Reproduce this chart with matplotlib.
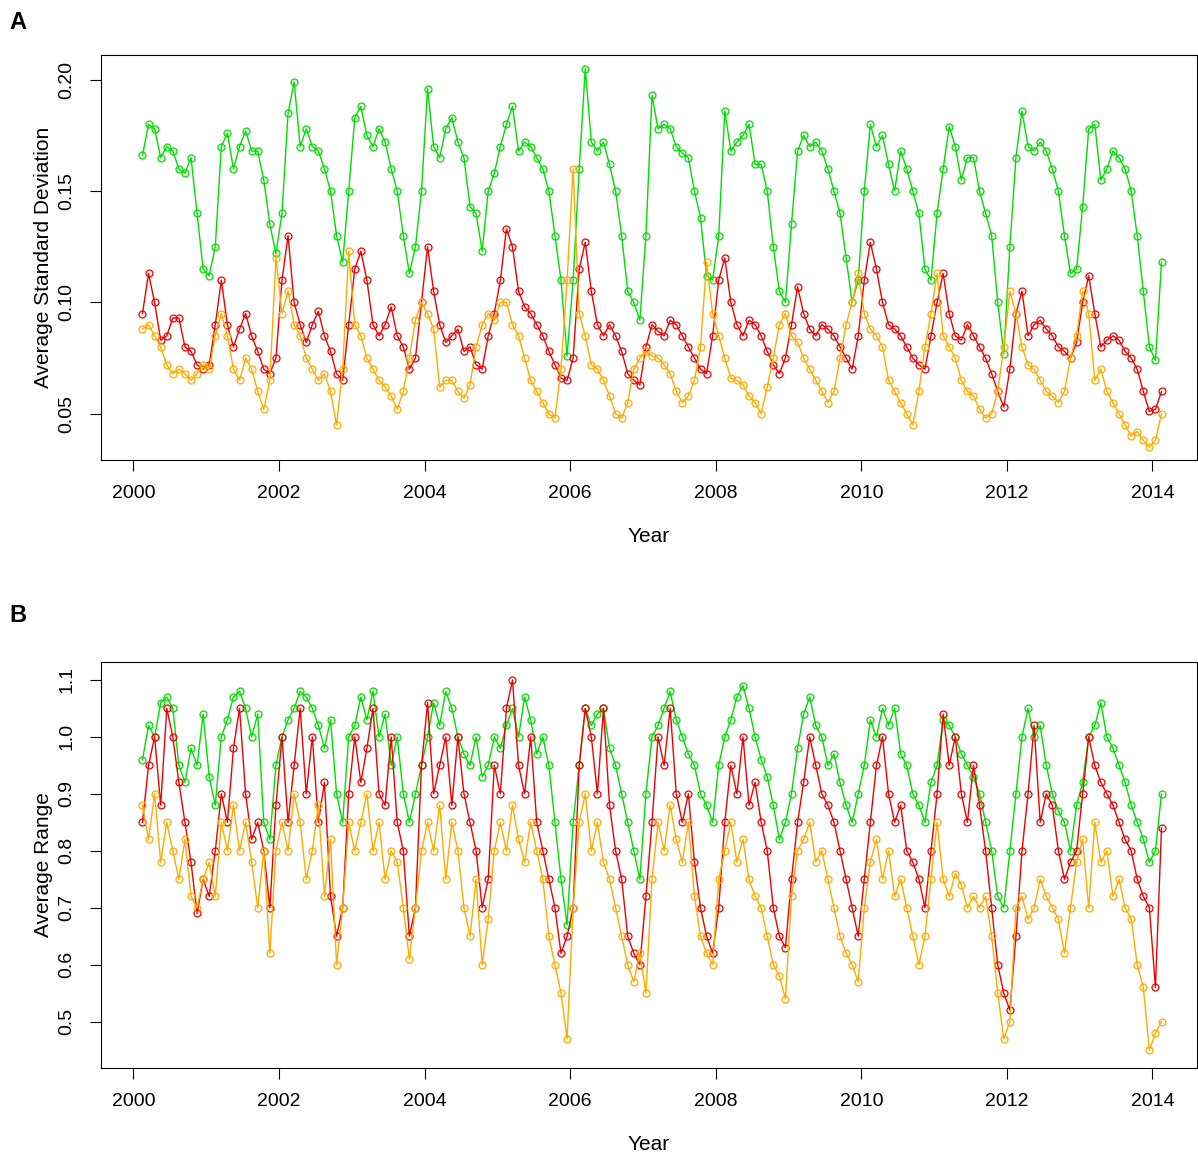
import numpy as np
import matplotlib
matplotlib.use("Agg")
import matplotlib.pyplot as plt

plt.rcParams['font.family'] = ['Liberation Sans', 'DejaVu Sans']

# monthly values, Feb 2000 .. Feb 2014
sd_green = [
    .166,.180,.178,.165,.170,.168,.160,.158,.165,.140,.115,
    .112,.125,.170,.176,.160,.170,.177,.168,.168,.155,.135,.122,
    .140,.185,.199,.170,.178,.170,.168,.160,.150,.130,.118,.150,
    .183,.188,.175,.170,.178,.172,.160,.150,.130,.113,.125,.150,
    .196,.170,.165,.178,.183,.172,.165,.143,.140,.123,.150,.158,
    .170,.180,.188,.168,.172,.170,.165,.160,.150,.130,.110,.076,
    .110,.160,.205,.172,.168,.172,.162,.150,.130,.105,.100,.092,
    .130,.193,.178,.180,.178,.170,.167,.165,.150,.138,.112,.110,
    .130,.186,.168,.172,.175,.180,.162,.162,.150,.125,.105,.100,
    .135,.168,.175,.170,.172,.168,.160,.150,.140,.120,.100,.110,
    .150,.180,.170,.175,.162,.150,.168,.160,.150,.140,.115,.110,
    .140,.160,.179,.170,.155,.165,.165,.150,.140,.130,.100,.077,
    .125,.165,.186,.170,.168,.172,.168,.160,.150,.130,.113,.115,
    .143,.178,.180,.155,.160,.168,.165,.160,.150,.130,.105,.080,
    .074,.118]
sd_red = [
    .095,.113,.100,.083,.085,.093,.093,.080,.078,.072,.070,
    .072,.090,.110,.090,.080,.088,.095,.085,.078,.070,.068,.075,
    .110,.130,.100,.090,.082,.090,.096,.085,.078,.068,.065,.090,
    .115,.123,.110,.090,.085,.090,.098,.085,.080,.070,.075,.100,
    .125,.105,.090,.082,.085,.088,.078,.080,.072,.070,.085,.095,
    .110,.133,.125,.105,.098,.095,.090,.085,.078,.072,.066,.065,
    .075,.115,.127,.105,.090,.085,.090,.085,.078,.068,.065,.063,
    .080,.090,.087,.085,.092,.090,.085,.080,.075,.070,.068,.085,
    .110,.120,.100,.090,.085,.092,.090,.085,.078,.072,.068,.075,
    .090,.107,.095,.088,.085,.090,.088,.085,.080,.075,.070,.085,
    .110,.127,.115,.100,.090,.088,.085,.080,.075,.072,.070,.085,
    .100,.113,.095,.085,.083,.090,.085,.080,.075,.068,.060,.053,
    .070,.095,.105,.085,.090,.092,.088,.085,.080,.078,.075,.082,
    .100,.112,.095,.080,.083,.085,.083,.078,.075,.070,.060,.051,
    .052,.060]
sd_orange = [
    .088,.090,.085,.080,.072,.068,.070,.068,.065,.068,.072,
    .070,.085,.095,.085,.070,.065,.075,.070,.060,.052,.065,.120,
    .095,.105,.090,.085,.075,.070,.065,.068,.060,.045,.070,.123,
    .090,.085,.075,.070,.065,.062,.058,.052,.060,.075,.092,.100,
    .095,.088,.062,.065,.065,.060,.057,.063,.080,.090,.095,.092,
    .100,.100,.090,.085,.075,.065,.060,.055,.050,.048,.070,.110,
    .160,.095,.085,.072,.070,.065,.058,.050,.048,.055,.070,.075,
    .078,.076,.075,.072,.068,.060,.055,.058,.065,.080,.118,.095,
    .085,.075,.066,.065,.063,.058,.055,.050,.062,.075,.090,.095,
    .085,.082,.075,.070,.065,.060,.055,.060,.075,.090,.100,.113,
    .095,.088,.085,.080,.065,.060,.055,.050,.045,.060,.080,.095,
    .113,.085,.080,.075,.065,.060,.058,.052,.048,.050,.060,.080,
    .105,.095,.080,.072,.070,.065,.060,.058,.055,.060,.075,.085,
    .105,.095,.065,.070,.060,.055,.050,.045,.040,.042,.038,.035,
    .038,.050]

rg_green = [
    .96,1.02,1.00,1.06,1.07,1.05,.95,.92,.98,.95,1.04,
    .93,.88,1.00,1.03,1.07,1.08,1.05,1.00,1.04,.85,.82,.95,
    1.00,1.03,1.05,1.08,1.07,1.05,1.02,.98,1.03,.90,.85,1.00,
    1.02,1.07,1.03,1.08,1.00,1.04,.95,1.00,.90,.85,.90,.95,
    1.00,1.06,1.02,1.08,1.05,1.00,.97,.95,1.00,.93,.95,1.00,
    .98,1.02,1.05,1.00,1.07,1.03,.97,1.00,.95,.85,.75,.67,
    .85,.95,1.05,1.02,1.04,1.05,.98,.95,.90,.85,.80,.75,
    .90,1.00,1.02,1.05,1.08,1.03,1.00,.97,.95,.90,.88,.85,
    .95,1.00,1.03,1.07,1.09,1.05,1.00,.96,.93,.88,.82,.85,
    .90,.98,1.04,1.07,1.02,1.00,.95,.97,.92,.88,.85,.90,
    .95,1.03,1.00,1.05,1.02,1.05,.97,.95,.90,.88,.85,.92,
    .95,1.03,1.02,1.00,.97,.95,.93,.90,.85,.80,.72,.70,
    .80,.90,1.00,1.05,1.00,1.02,.95,.90,.87,.85,.80,.88,
    .92,1.00,1.02,1.06,1.00,.98,.95,.92,.88,.85,.82,.78,
    .80,.90]
rg_red = [
    .85,.95,1.00,.88,1.05,1.00,.92,.85,.78,.69,.75,
    .72,.80,.90,.85,.98,1.05,.90,.82,.85,.80,.70,.88,
    1.00,.85,.95,1.05,.90,1.00,.85,.92,.72,.65,.70,.90,
    1.00,.92,.98,1.05,.90,.88,1.00,.85,.80,.65,.70,.95,
    1.06,.90,.95,1.00,.88,1.00,.90,.85,.80,.70,.75,.95,
    .90,1.05,1.10,.95,.90,1.00,.85,.80,.75,.70,.62,.65,
    .70,.95,1.05,1.00,.90,1.05,.88,.80,.75,.65,.62,.60,
    .72,.85,1.00,.95,1.05,.90,.85,.90,.78,.70,.65,.62,
    .70,.85,.95,.90,1.00,.88,.92,.85,.80,.70,.65,.63,
    .75,.85,.92,1.00,.95,.90,.88,.85,.80,.75,.70,.65,
    .75,.85,.95,1.00,.90,.85,.88,.80,.78,.75,.70,.80,
    .90,1.04,.95,1.00,.90,.85,.95,.88,.80,.70,.60,.55,
    .52,.65,.80,.90,1.02,.85,.90,.88,.80,.75,.78,.80,
    .90,1.00,.95,.92,.90,.88,.85,.82,.80,.75,.72,.70,
    .56,.84]
rg_orange = [
    .88,.82,.90,.78,.85,.80,.75,.82,.72,.70,.75,
    .78,.72,.85,.80,.88,.80,.85,.78,.70,.80,.62,.80,
    .85,.80,.90,.85,.75,.80,.88,.72,.82,.60,.70,.85,
    .80,.85,.90,.80,.85,.75,.80,.78,.70,.61,.70,.80,
    .85,.80,.88,.75,.85,.80,.70,.65,.75,.60,.68,.80,
    .85,.80,.88,.82,.78,.85,.80,.75,.65,.60,.55,.47,
    .70,.85,.90,.80,.85,.78,.75,.70,.65,.60,.57,.62,
    .55,.75,.85,.80,.88,.82,.78,.85,.72,.65,.62,.60,
    .75,.80,.85,.78,.82,.75,.72,.70,.65,.60,.58,.54,
    .72,.80,.82,.85,.78,.80,.75,.70,.65,.62,.60,.57,
    .70,.78,.82,.75,.80,.72,.75,.70,.65,.60,.65,.75,
    .85,.75,.72,.76,.74,.70,.72,.70,.72,.65,.55,.47,
    .50,.70,.72,.68,.70,.75,.72,.70,.68,.62,.70,.78,
    .82,.70,.85,.78,.80,.72,.75,.70,.68,.60,.56,.45,
    .48,.50]

years = 2000 + (np.arange(len(sd_green)) + 1.5) / 12
xticks = list(range(2000, 2015, 2))

fig = plt.figure(figsize=(11.98, 11.67), dpi=100)
axA = fig.add_axes([0.084, 0.606, 0.915, 0.347])
axB = fig.add_axes([0.084, 0.085, 0.915, 0.348])

def draw(ax, series, ylabel, ylim, yticks, ytl):
    for vals, col in series:
        ax.plot(years, vals, color=col, lw=1, marker='o', ms=5,
                mfc='none', mec=col, mew=0.9)
    ax.set_xlim(1999.55, 2014.61)
    ax.set_ylim(*ylim)
    ax.set_xticks(xticks)
    ax.set_yticks(yticks)
    ax.set_yticklabels(ytl, rotation=90, va='center')
    ax.tick_params(direction='out', length=8, labelsize=14, pad=10)
    ax.set_xlabel("Year", fontsize=15, labelpad=18)
    ax.set_ylabel(ylabel, fontsize=15)

draw(axA, [(sd_green, '#00dd00'), (sd_red, '#ee0000'), (sd_orange, '#ffaa00')],
     "Average Standard Deviation", (0.0293, 0.2112),
     [0.05, 0.10, 0.15, 0.20], ["0.05", "0.10", "0.15", "0.20"])
draw(axB, [(rg_green, '#00dd00'), (rg_red, '#ee0000'), (rg_orange, '#ffaa00')],
     "Average Range", (0.419, 1.132),
     [0.5, 0.6, 0.7, 0.8, 0.9, 1.0, 1.1],
     ["0.5", "0.6", "0.7", "0.8", "0.9", "1.0", "1.1"])

fig.text(0.008, 0.975, "A", fontsize=17, fontweight='bold')
fig.text(0.008, 0.467, "B", fontsize=17, fontweight='bold')

fig.savefig("out.png", dpi=100)
